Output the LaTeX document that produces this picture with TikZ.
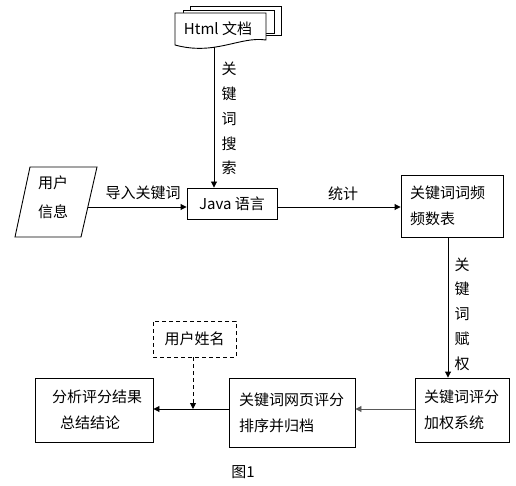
\documentclass[tikz,border=0pt]{standalone}
\usepackage{fontspec}
\setmainfont{Noto Sans CJK SC}
\usetikzlibrary{arrows.meta}
\begin{document}
\begin{tikzpicture}[x=1pt,y=-1pt,
  every node/.style={font=\fontsize{15}{26}\selectfont, inner sep=0pt},
  box/.style={draw, line width=0.9pt},
  arr/.style={line width=0.9pt, -{Triangle[length=6pt,width=6pt]}},
  vlab/.style={align=center, font=\fontsize{15}{24.8}\selectfont},
  shp/.style={line width=0.9pt, fill=white}
]
\useasboundingbox (0,0) rectangle (516,486);
% multi-document shape
\draw[shp] (190,6) rectangle (281,35);
\draw[shp] (183,10) rectangle (274,33);
\draw[shp] (175,13) -- (266,13) -- (266,40) .. controls (240,36) and (215,56) .. (175,45) -- cycle;
\node (html) at (218,29) {Html 文档};
\coordinate (docbot) at (214,47);
% Java box
\node[box, minimum width=90pt, minimum height=31pt] (java) at (232,203.5) {Java 语言};
\draw[arr] (docbot) -- (docbot |- java.north);
\node[vlab] (kws) at (229,118.5) {关\\键\\词\\搜\\索};
% user info parallelogram
\draw[line width=0.9pt] (30,167) -- (97,167) -- (81,237) -- (15,237) -- cycle;
\node[align=left, anchor=west, font=\fontsize{15}{29}\selectfont] (user) at (38,197.5) {用户\\信息};
\coordinate (pright) at (88,207);
\draw[arr] (pright) -- (pright -| java.west);
\node (imp) at (143,193) {导入关键词};
% frequency table
\node[box, minimum width=102pt, minimum height=62pt, text width=84pt, align=left] (freq) at (452,206) {关键词词频\\频数表};
\draw[arr] (java.east |- pright) -- (freq.west |- pright);
\node (stat) at (343,194) {统计};
% weighting system
\node[box, minimum width=94pt, minimum height=64pt, text width=76pt, align=left] (score) at (462,410) {关键词评分\\加权系统};
\coordinate (fdown) at (448,0);
\draw[arr] (fdown |- freq.south) -- (fdown |- score.north);
\node[vlab] (kwq) at (462,314) {关\\键\\词\\赋\\权};
% ranking box
\node[box, minimum width=126pt, minimum height=69pt, text width=106pt, align=left] (rank) at (292,412.5) {关键词网页评分\\排序并归档};
% result box
\node[box, minimum width=118pt, minimum height=64pt, text width=84pt, align=left] (result) at (94,410) {分析评分结果\\\hspace*{8pt}总结结论};
\coordinate (brow) at (0,409);
\draw[arr, draw=black!65] (score.west |- brow) -- (rank.east |- brow);
\draw[arr] (rank.west |- brow) -- (result.east |- brow);
% user name dashed box
\node[box, dash pattern=on 4pt off 3pt, minimum width=83pt, minimum height=36pt] (uname) at (194.5,339) {用户姓名};
\coordinate (dx) at (193,0);
\draw[arr, dash pattern=on 4pt off 3pt] (dx |- uname.south) -- (dx |- brow);
% caption
\node (cap) at (243,472) {图1};
\end{tikzpicture}
\end{document}
